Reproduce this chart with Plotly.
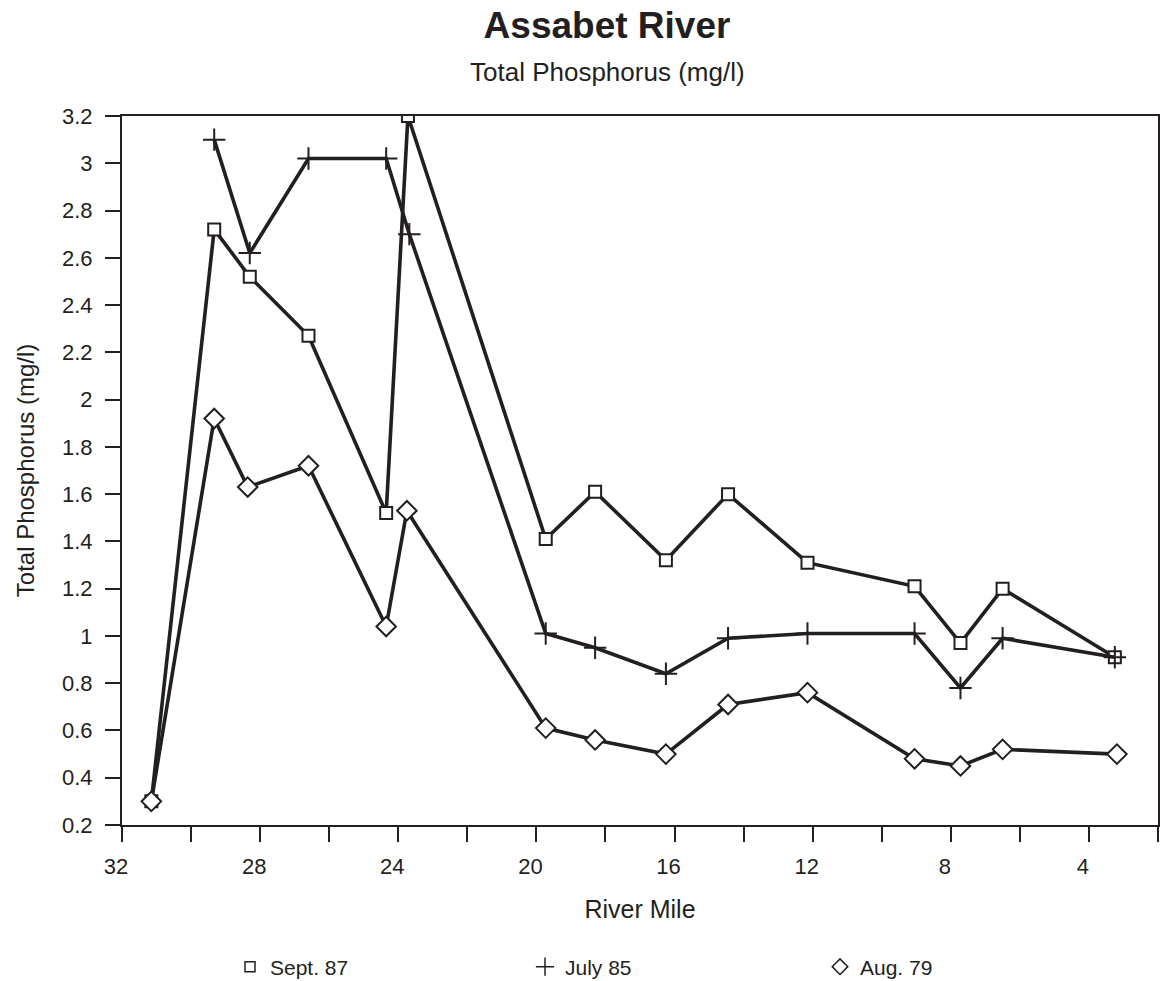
import plotly.graph_objects as go

# River mile stations
sept87_miles = [31.15, 29.33, 28.3, 26.6, 24.35, 23.72, 19.73, 18.3, 16.25, 14.45, 12.15, 9.05, 7.72, 6.5, 3.25]
sept87_tp = [0.30, 2.72, 2.52, 2.27, 1.52, 3.20, 1.41, 1.61, 1.32, 1.60, 1.31, 1.21, 0.97, 1.20, 0.91]

july85_miles = [29.33, 28.3, 26.6, 24.35, 23.68, 19.73, 18.3, 16.25, 14.45, 12.15, 9.05, 7.72, 6.5, 3.25]
july85_tp = [3.10, 2.62, 3.02, 3.02, 2.70, 1.01, 0.95, 0.84, 0.99, 1.01, 1.01, 0.78, 0.99, 0.91]

aug79_miles = [31.15, 29.33, 28.36, 26.6, 24.35, 23.75, 19.73, 18.3, 16.25, 14.45, 12.15, 9.05, 7.72, 6.5, 3.19]
aug79_tp = [0.30, 1.92, 1.63, 1.72, 1.04, 1.53, 0.61, 0.56, 0.50, 0.71, 0.76, 0.48, 0.45, 0.52, 0.50]

series_names = ["Sept. 87", "July 85", "Aug. 79"]

INK = "#231f20"
FONT = "Liberation Sans, Arial, Helvetica, sans-serif"

fig = go.Figure()

styles = [
    dict(symbol="square", size=12, color="white", line=dict(color=INK, width=2)),
    dict(symbol="cross-thin", size=16, color=INK, line=dict(color=INK, width=2)),
    dict(symbol="diamond", size=15, color="white", line=dict(color=INK, width=2)),
]
legend_styles = [
    dict(symbol="square", size=10, color="white", line=dict(color=INK, width=1.5)),
    dict(symbol="cross-thin", size=13, color=INK, line=dict(color=INK, width=1.5)),
    dict(symbol="diamond", size=12, color="white", line=dict(color=INK, width=1.5)),
]
data = [(sept87_miles, sept87_tp), (july85_miles, july85_tp), (aug79_miles, aug79_tp)]

for (xs, ys), name, st in zip(data, series_names, styles):
    fig.add_trace(go.Scatter(
        x=xs, y=ys, mode="lines+markers", name=name, showlegend=False,
        line=dict(color=INK, width=3.6),
        marker=st,
    ))

for name, st in zip(series_names, legend_styles):
    fig.add_trace(go.Scatter(
        x=[None], y=[None], mode="markers", name=name, showlegend=True,
        marker=st,
    ))

fig.update_layout(
    width=1160, height=981,
    paper_bgcolor="white", plot_bgcolor="white",
    margin=dict(l=122, r=2, t=116, b=156, autoexpand=False),
    font=dict(family=FONT, color=INK, size=20),
    title=dict(
        text="<b>Assabet River</b>",
        x=607 / 1160, xanchor="center", xref="container",
        y=1 - 25 / 981, yanchor="middle", yref="container",
        font=dict(family=FONT, size=37, color=INK),
    ),
    annotations=[dict(
        text="Total Phosphorus (mg/l)",
        xref="paper", yref="paper",
        x=(607 - 122) / 1036, y=1 + (116 - 72) / 709,
        xanchor="center", yanchor="middle", showarrow=False,
        font=dict(family=FONT, size=26, color=INK),
    )],
    legend=dict(
        orientation="h",
        x=(230 - 122) / 1036, y=-(967 - 825) / 709,
        xanchor="left", yanchor="middle",
        entrywidth=250, entrywidthmode="pixels",
        font=dict(family=FONT, size=21, color=INK),
        bgcolor="rgba(0,0,0,0)",
    ),
    xaxis=dict(
        range=[32, 2], automargin=False,
        tickmode="linear", tick0=0, dtick=4,
        ticks="outside", ticklen=15, tickwidth=2, tickcolor=INK,
        minor=dict(dtick=2, tick0=0, ticks="outside", ticklen=15, tickwidth=2, tickcolor=INK),
        showline=True, linecolor=INK, linewidth=2, mirror=True,
        showgrid=False, zeroline=False,
        tickfont=dict(family=FONT, size=22, color=INK),
        ticklabelstandoff=6, ticklabelshift=6,
        title=dict(text="River Mile", font=dict(family=FONT, size=25, color=INK), standoff=22),
    ),
    yaxis=dict(
        range=[0.2, 3.2], automargin=False,
        tickmode="linear", tick0=0.2, dtick=0.2,
        ticks="outside", ticklen=15, tickwidth=2, tickcolor=INK,
        showline=True, linecolor=INK, linewidth=2, mirror=True,
        showgrid=False, zeroline=False,
        tickfont=dict(family=FONT, size=22, color=INK),
        ticklabelstandoff=8,
        title=dict(text="Total Phosphorus (mg/l)", font=dict(family=FONT, size=24, color=INK), standoff=21),
    ),
)

fig.write_html(
    "out.html",
    config={"displayModeBar": False},
    post_script="document.body.style.margin='0';document.body.style.overflow='hidden';",
)
